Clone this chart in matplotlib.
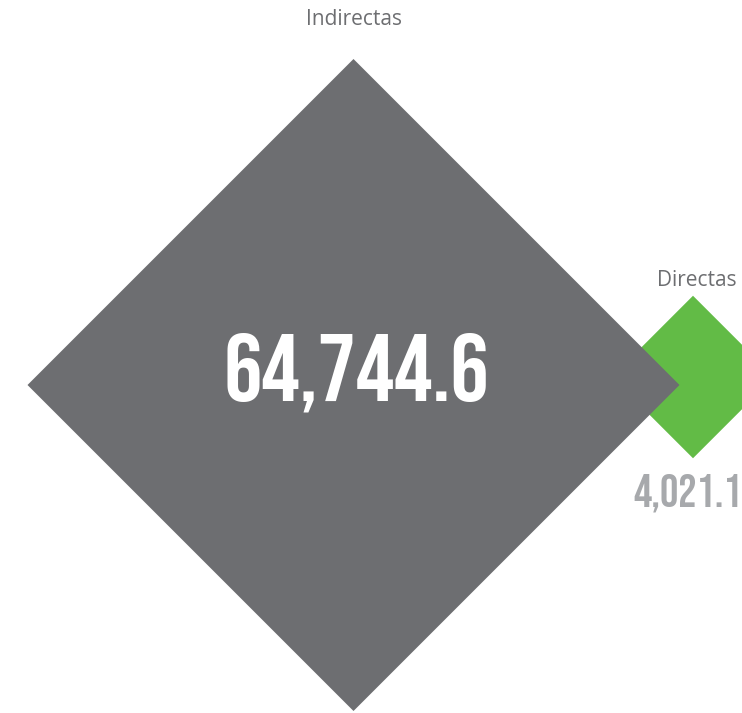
import numpy as np
import matplotlib
matplotlib.use("Agg")
import matplotlib.pyplot as plt
from matplotlib.patches import Polygon
from matplotlib import font_manager

# ---- data ----
categories = ["Indirectas", "Directas"]
values = [64744.6, 4021.1]
value_labels = ["64,744.6", "4,021.1"]

# ---- style ----
fill_colors = ["#6D6E71", "#62BB46"]
label_color = "#6D6E71"
avail = set(font_manager.get_font_names())
num_font = next((f for f in ["Bebas Neue", "Saira ExtraCondensed", "Roboto Condensed"] if f in avail),
                "DejaVu Sans")
lab_font = next((f for f in ["Open Sans", "Lato", "DejaVu Sans"] if f in avail), "DejaVu Sans")
num_weight = "normal" if num_font == "Bebas Neue" else "bold"

fig = plt.figure(figsize=(7.42, 7.13), dpi=100)
ax = fig.add_axes([0, 0, 1, 1])
ax.set_xlim(0, 742)
ax.set_ylim(713, 0)
ax.set_aspect("equal")
ax.axis("off")

centers = [(353.5, 385.0), (693.0, 377.0)]
scale = 326.0 / np.sqrt(values[0])
zorders = [3, 2]

for (cx, cy), v, c, z in zip(centers, values, fill_colors, zorders):
    h = scale * np.sqrt(v)
    ax.add_patch(Polygon([(cx, cy - h), (cx + h, cy), (cx, cy + h), (cx - h, cy)],
                         closed=True, facecolor=c, edgecolor="none", zorder=z))

# category labels
ax.text(353.5, 25, categories[0], ha="center", va="baseline", fontsize=15,
        color=label_color, family=lab_font, zorder=5)
ax.text(737, 286, categories[1], ha="right", va="baseline", fontsize=15,
        color=label_color, family=lab_font, zorder=5)

# value labels
ax.text(356.5, 400, value_labels[0], ha="center", va="baseline", fontsize=69,
        color="white", fontweight=num_weight, family=num_font, zorder=6)
ax.text(633, 506, value_labels[1], ha="left", va="baseline", fontsize=33,
        color="#A7A9AC", fontweight=num_weight, family=num_font, zorder=6)

fig.savefig("out.png", dpi=100)
